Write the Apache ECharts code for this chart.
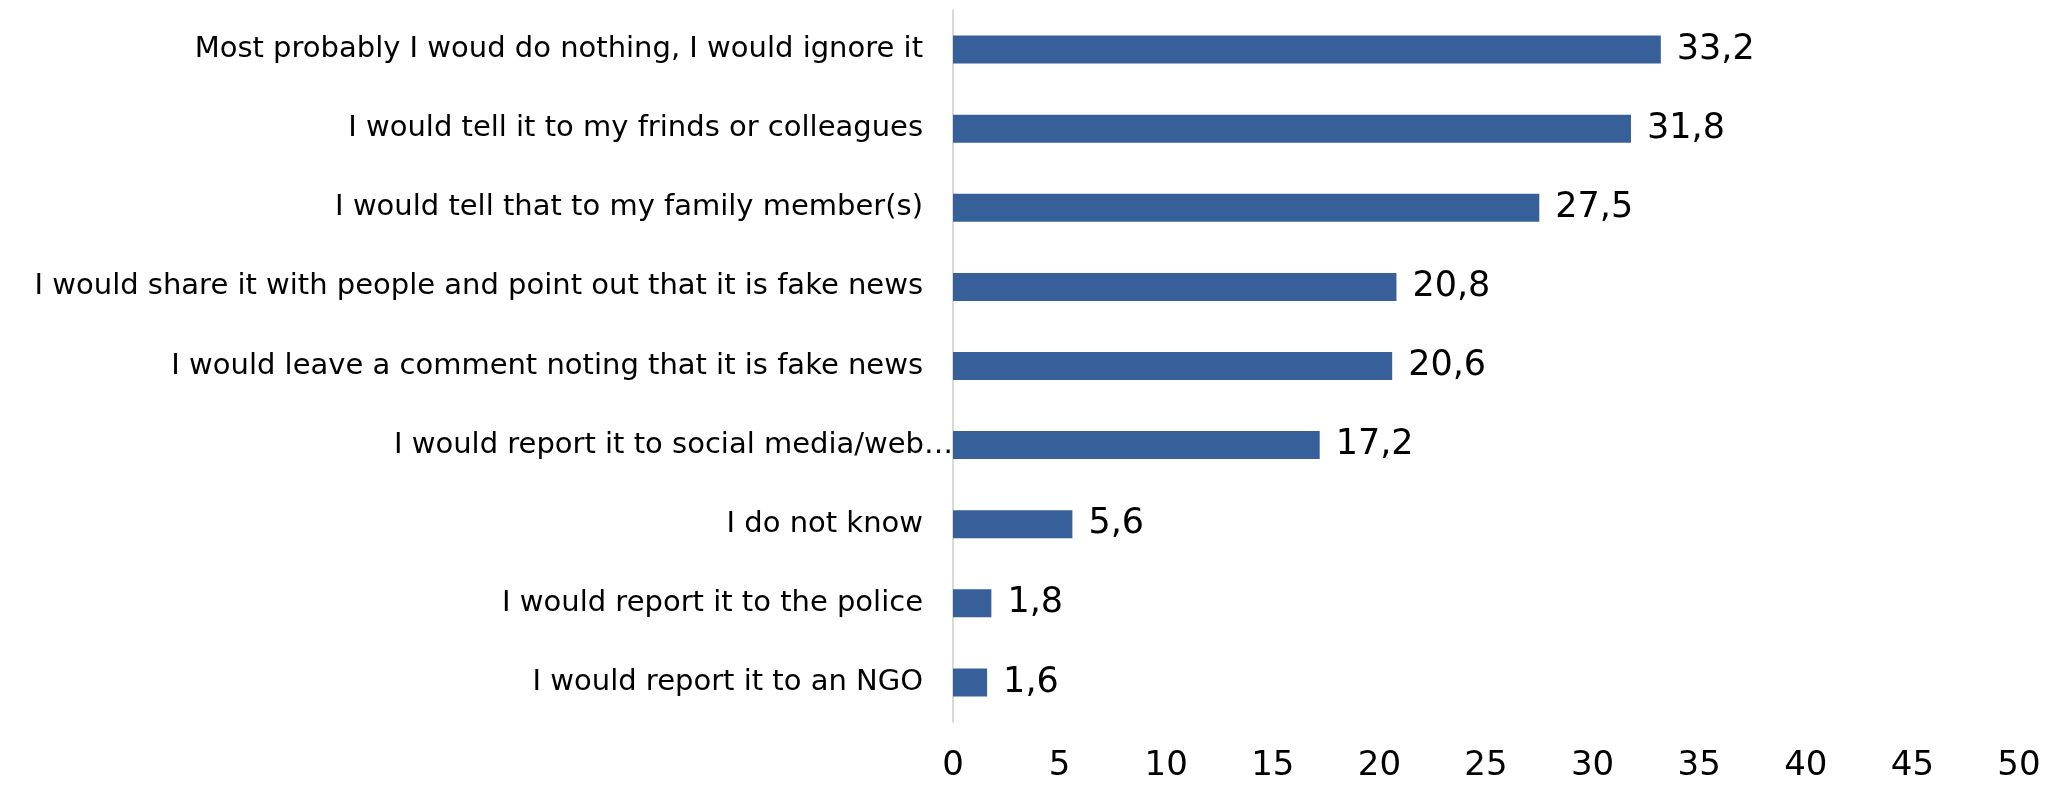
<!DOCTYPE html>
<html>
<head>
<meta charset="utf-8">
<style>
  html, body { margin: 0; padding: 0; background: #ffffff; }
  #chart { width: 2049px; height: 788px; }
</style>
<script src="https://cdn.jsdelivr.net/npm/echarts@6/dist/echarts.min.js"></script>
</head>
<body>
<div id="chart"></div>
<script>
// Responses, listed top to bottom
const categories = [
  'Most probably I woud do nothing, I would ignore it',
  'I would tell it to my frinds or colleagues',
  'I would tell that to my family member(s)',
  'I would share it with people and point out that it is fake news',
  'I would leave a comment noting that it is fake news',
  'I would report it to social media/web…',
  'I do not know',
  'I would report it to the police',
  'I would report it to an NGO'
];
const shares = [33.2, 31.8, 27.5, 20.8, 20.6, 17.2, 5.6, 1.8, 1.6];
const axisTicks = [0, 5, 10, 15, 20, 25, 30, 35, 40, 45, 50];

const FONT = '"DejaVu Sans", sans-serif';
const chart = echarts.init(document.getElementById('chart'), null, { renderer: 'canvas' });

// category axis runs bottom-up, so reverse to keep the first response on top
const cats = categories.slice().reverse().map(function (c) {
  if (c.endsWith('…')) {
    return { value: c, textStyle: { padding: [0, -30, 0, 0] } };
  }
  return c;
});
const vals = shares.slice().reverse();

chart.setOption({
  animation: false,
  backgroundColor: '#ffffff',
  grid: { left: 953, right: 30, top: 10, bottom: 66, containLabel: false },
  xAxis: {
    type: 'value',
    min: axisTicks[0],
    max: axisTicks[axisTicks.length - 1],
    interval: 5,
    splitLine: { show: false },
    axisLine: { show: false },
    axisTick: { show: false },
    axisLabel: {
      fontFamily: FONT, fontSize: 34, color: '#000000', margin: 27
    }
  },
  yAxis: {
    type: 'category',
    data: cats,
    axisLine: { show: true, lineStyle: { color: '#d9d9d9', width: 2 } },
    axisTick: { show: false },
    axisLabel: {
      fontFamily: FONT, fontSize: 29, color: '#000000', margin: 30
    }
  },
  series: [{
    type: 'bar',
    data: vals,
    barWidth: 28,
    itemStyle: { color: '#37609A' },
    label: {
      show: true,
      position: 'right',
      distance: 16,
      fontFamily: FONT,
      fontSize: 35,
      color: '#000000',
      formatter: function (p) { return p.value.toFixed(1).replace('.', ','); }
    }
  }]
});
</script>
</body>
</html>
